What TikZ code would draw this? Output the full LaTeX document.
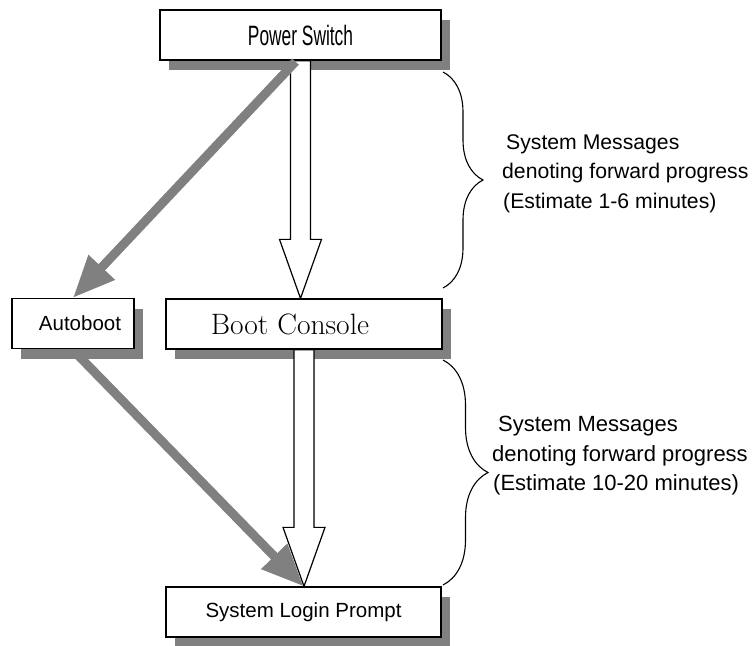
\documentclass[tikz,border=0pt]{standalone}
\usepackage{fontspec}
\newfontfamily\arial{Liberation Sans}
\newfontfamily\arialnarrow[FakeStretch=0.62]{Liberation Sans}
\usetikzlibrary{arrows.meta,shadows,decorations.pathreplacing,calc}
% hollow block arrow with its shadow, from the bottom of #1 to the top of #2
\newcommand{\hollowarrow}[2]{%
\path[fill=black!50,xshift=9pt,yshift=-10pt]let\p1=(#1.south),\p2=(#2.north)in
 (\x1-10pt,\y1)--(\x1-10pt,\y2+59pt)--(\x1-21pt,\y2+59pt)--(\x1,\y2)--(\x1+21pt,\y2+59pt)--(\x1+10pt,\y2+59pt)--(\x1+10pt,\y1)--cycle;
\draw[fill=white,line width=1.2pt,line join=miter]let\p1=(#1.south),\p2=(#2.north)in
 (\x1-10pt,\y1)--(\x1-10pt,\y2+59pt)--(\x1-21pt,\y2+59pt)--(\x1,\y2)--(\x1+21pt,\y2+59pt)--(\x1+10pt,\y2+59pt)--(\x1+10pt,\y1)--cycle;}
\begin{document}
\begin{tikzpicture}[x=1pt,y=-1pt,
box/.style={draw,line width=1.3pt,fill=white,minimum height=50pt,inner sep=0pt,
 drop shadow={shadow xshift=9pt,shadow yshift=-10pt,fill=black!50,opacity=1}},
grayarrow/.style={draw=black!50,line width=9pt,-{Triangle[length=42pt,width=34pt]}},
brace/.style={decorate,decoration={brace,amplitude=#1},line width=1.1pt},
note/.style={anchor=west,inner sep=0pt,align=left,font=\arial}]
\useasboundingbox(0,0)rectangle(752,645);
% boxes
\node[box,minimum width=281pt](ps)at(300.5,35){\arialnarrow\fontsize{28}{30}\selectfont Power Switch};
\node[box,minimum width=122pt](auto)at(73,323.5){\arial\fontsize{20.5}{24}\selectfont\hspace*{14pt}Autoboot};
\node[box,minimum width=276pt](boot)at(304,324){\fontsize{29.5}{32}\selectfont\hspace*{-28pt}Boot Console};
\node[box,minimum width=275pt](login)at(303.5,612){\arial\fontsize{20.5}{24}\selectfont System Login Prompt};
% arrows
\hollowarrow{ps}{boot}
\hollowarrow{boot}{login}
\draw[grayarrow]([xshift=-5pt,yshift=-1pt]ps.south)--(auto.north);
\draw[grayarrow]([xshift=4pt,yshift=-5pt]auto.south)--(login.north);
% braces and notes
\coordinate(b1top)at(443,72);
\coordinate(b1bot)at(443,288);
\coordinate(b2top)at(443,360);
\coordinate(b2bot)at(443,585);
\draw[brace=40pt](b1top)--(b1bot);
\draw[brace=45pt](b2top)--(b2bot);
\node[note,font=\arial\fontsize{21.2}{29.5}\selectfont](msg1)at(502,173.5){\hspace*{4pt}System Messages\\denoting forward progress\\\hspace*{1pt}(Estimate 1-6 minutes)};
\node[note,font=\arial\fontsize{22}{29.5}\selectfont](msg2)at(492,456){\hspace*{6pt}System Messages\\denoting forward progress\\\hspace*{1pt}(Estimate 10-20 minutes)};
\end{tikzpicture}
\end{document}
